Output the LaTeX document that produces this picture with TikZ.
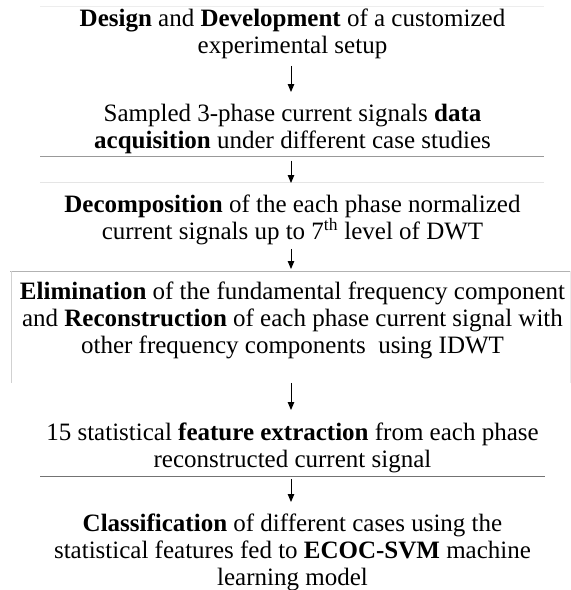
\documentclass[tikz,border=0pt]{standalone}
\usepackage{fontspec}
\setmainfont{Liberation Serif}
\usetikzlibrary{arrows.meta}
\begin{document}
\begin{tikzpicture}[x=1pt,y=1pt,
  blk/.style={anchor=north, inner sep=0pt, align=center, font=\fontsize{25}{27}\selectfont},
  arr/.style={line width=0.9pt, -{Triangle[length=8pt,width=6.5pt]}},
  rule/.style={line width=0.8pt}]
\useasboundingbox (0,0) rectangle (571,-590);
\fill[white] (0,0) rectangle (571,-590);
\coordinate (ax) at (291,0);
% faint rules
\draw[rule, black!7] (40,-6) -- (544,-6);
\draw[rule, black!40] (40,-156) -- (544,-156);
\draw[rule, black!10] (40,-182) -- (544,-182);
\draw[rule, black!30] (10,-271) -- (571,-271);
\draw[rule, black!18] (11,-271) -- (11,-383);
\draw[rule, black!8] (570,-271) -- (570,-383);
\draw[rule, black!55] (40,-476) -- (545,-476);
% blocks
\node[blk] (b1) at (292.5,-8.9) {\textbf{Design} and \textbf{Development} of a customized\\experimental setup};
\node[blk] (b2) at (292.5,-103.9) {Sampled 3-phase current signals \textbf{data}\\\textbf{acquisition} under different case studies};
\node[blk] (b3) at (292.5,-194.9) {\textbf{Decomposition} of the each phase normalized\\current signals up to 7\textsuperscript{th} level of DWT};
\node[blk] (b4) at (292.5,-281.9) {\textbf{Elimination} of the fundamental frequency component\\and \textbf{Reconstruction} of each phase current signal with\\other frequency components\ \ using IDWT};
\node[blk] (b5) at (292.5,-422.9) {15 statistical \textbf{feature extraction} from each phase\\reconstructed current signal};
\node[blk] (b6) at (292.5,-513.9) {\textbf{Classification} of different cases using the\\statistical features fed to \textbf{ECOC-SVM} machine\\learning model};
% arrows
\draw[arr, shorten <=6.6pt, shorten >=11.9pt] (b1.south -| ax) -- (b2.north -| ax);
\draw[arr, shorten <=6.6pt, shorten >=11.9pt] (b2.south -| ax) -- (b3.north -| ax);
\draw[arr, shorten <=3.6pt, shorten >=12.9pt] (b3.south -| ax) -- (b4.north -| ax);
\draw[arr, shorten <=23.6pt, shorten >=12.9pt] (b4.south -| ax) -- (b5.north -| ax);
\draw[arr, shorten <=5.6pt, shorten >=11.9pt] (b5.south -| ax) -- (b6.north -| ax);
\end{tikzpicture}
\end{document}
